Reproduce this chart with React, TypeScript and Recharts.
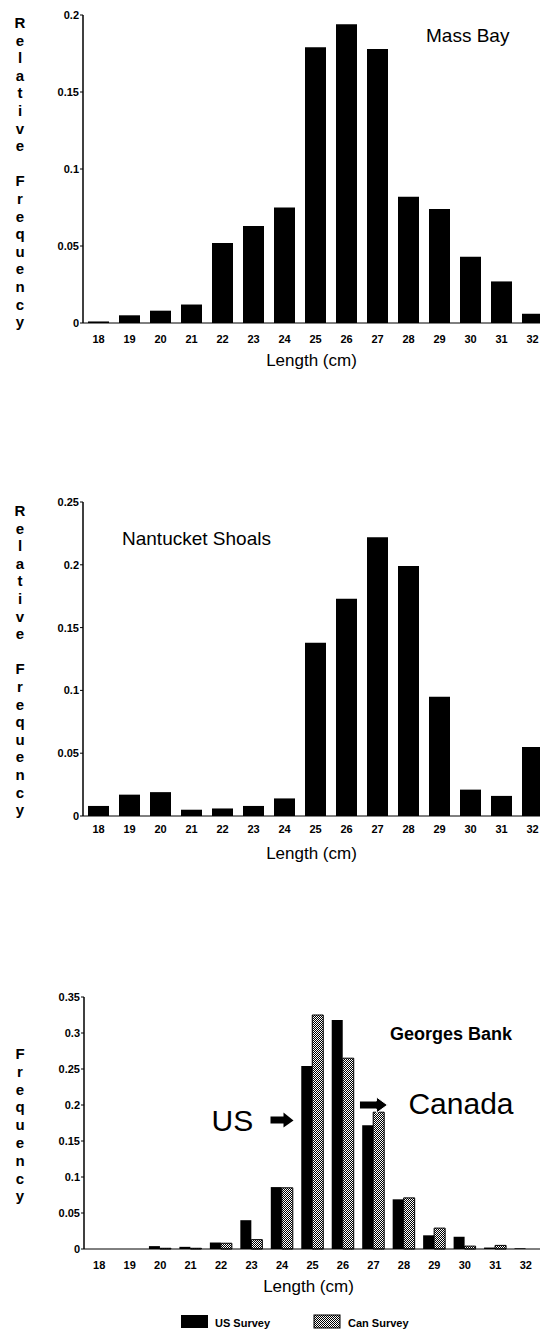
import React from "react";
import { BarChart, Bar, XAxis, YAxis, ReferenceDot } from "recharts";

const FONT = "'Liberation Sans', Arial, Helvetica, sans-serif";

// length classes (cm)
const lengths = ["18", "19", "20", "21", "22", "23", "24", "25", "26", "27", "28", "29", "30", "31", "32"];

// relative frequency
const massBay = [0.001, 0.005, 0.008, 0.012, 0.052, 0.063, 0.075, 0.179, 0.194, 0.178, 0.082, 0.074, 0.043, 0.027, 0.006];
const nantucket = [0.008, 0.017, 0.019, 0.005, 0.006, 0.008, 0.014, 0.138, 0.173, 0.222, 0.199, 0.095, 0.021, 0.016, 0.055];
const georgesUS = [0, 0, 0.004, 0.003, 0.009, 0.04, 0.086, 0.254, 0.318, 0.172, 0.069, 0.019, 0.017, 0.002, 0.001];
const georgesCan = [0, 0, 0.001, 0.001, 0.008, 0.013, 0.085, 0.325, 0.265, 0.19, 0.071, 0.029, 0.004, 0.005, 0];

const ticksMass = [0, 0.05, 0.1, 0.15, 0.2];
const ticksNant = [0, 0.05, 0.1, 0.15, 0.2, 0.25];
const ticksGeorges = [0, 0.05, 0.1, 0.15, 0.2, 0.25, 0.3, 0.35];

const massRows = lengths.map((len, i) => ({ len, v: massBay[i] }));
const nantRows = lengths.map((len, i) => ({ len, v: nantucket[i] }));
const georgesRows = lengths.map((len, i) => ({ len, us: georgesUS[i], can: georgesCan[i] }));

const xTick = { fontSize: 11, fontWeight: 700, fill: "#000", fontFamily: FONT };
const yTick = { fontSize: 11, fontWeight: 700, fill: "#000", fontFamily: FONT };

const lengthLabel = {
  content: (p: any) => {
    const vb = p.viewBox || {};
    return (
      <text x={vb.x + vb.width / 2 - 4} y={vb.y + 43} textAnchor="middle" fontSize={17} fontFamily={FONT} fill="#000">
        Length (cm)
      </text>
    );
  },
};

function UsNote(p: any) {
  const { cx, cy } = p;
  const tip = cx - 19;
  const tail = cx - 42;
  const hb = tip - 10;
  return (
    <g>
      <polygon
        points={`${tail},${cy - 3} ${hb},${cy - 3} ${hb},${cy - 7} ${tip},${cy + 1} ${hb},${cy + 8} ${hb},${cy + 4} ${tail},${cy + 4}`}
        fill="#000"
      />
      <text x={cx - 101} y={cy + 12} fontSize={30} fontFamily={FONT} fill="#000">
        US
      </text>
    </g>
  );
}

function CanNote(p: any) {
  const { cx, cy } = p;
  const tail = cx - 14;
  const tip = cx + 14;
  const hb = tip - 11;
  return (
    <g>
      <polygon
        points={`${tail},${cy - 4} ${hb},${cy - 4} ${hb},${cy - 8} ${tip},${cy} ${hb},${cy + 8} ${hb},${cy + 4} ${tail},${cy + 4}`}
        fill="#000"
        stroke="#fff"
        strokeWidth={1}
      />
      <text x={cx + 35} y={cy + 9} fontSize={30} fontFamily={FONT} fill="#000">
        Canada
      </text>
    </g>
  );
}

function VLabel({ words, x, y0, step }: { words: string[]; x: number; y0: number; step: number }) {
  const out: any[] = [];
  let k = 0;
  words.forEach((w, wi) => {
    if (wi > 0) k++;
    for (const ch of w) {
      out.push(
        <text key={wi + "-" + k} x={x} y={y0 + k * step} textAnchor="middle" fontSize={15} fontWeight={700} fontFamily={FONT} fill="#000">
          {ch}
        </text>
      );
      k++;
    }
  });
  return <g>{out}</g>;
}

export default function App() {
  return (
    <div style={{ position: "absolute", left: 0, top: 0, width: 540, height: 1335, overflow: "hidden", background: "#fff" }}>
      {/* Mass Bay */}
      <div style={{ position: "absolute", left: 0, top: 0 }}>
        <BarChart width={560} height={380} data={massRows} margin={{ top: 15, right: 12, bottom: 7, left: 0 }}>
          <XAxis dataKey="len" interval={0} tickLine={false} axisLine={{ stroke: "#000" }} tick={xTick} tickSize={6} tickMargin={6} height={50} label={lengthLabel} />
          <YAxis width={83} domain={[0, 0.2]} ticks={ticksMass} tick={yTick} tickSize={3} tickMargin={1} axisLine={{ stroke: "#000", strokeWidth: 1.5 }} tickLine={{ stroke: "#000" }} />
          <Bar dataKey="v" fill="#000" barSize={21} isAnimationActive={false} />
        </BarChart>
      </div>

      {/* Nantucket Shoals */}
      <div style={{ position: "absolute", left: 0, top: 490 }}>
        <BarChart width={560} height={383} data={nantRows} margin={{ top: 12, right: 12, bottom: 7, left: 0 }}>
          <XAxis dataKey="len" interval={0} tickLine={false} axisLine={{ stroke: "#000" }} tick={xTick} tickSize={5} tickMargin={4} height={50} label={lengthLabel} />
          <YAxis width={83} domain={[0, 0.25]} ticks={ticksNant} tick={yTick} tickSize={3} tickMargin={1} axisLine={{ stroke: "#000", strokeWidth: 1.5 }} tickLine={{ stroke: "#000" }} />
          <Bar dataKey="v" fill="#000" barSize={21} isAnimationActive={false} />
        </BarChart>
      </div>

      {/* Georges Bank */}
      <div style={{ position: "absolute", left: 0, top: 985 }}>
        <BarChart width={560} height={321} data={georgesRows} margin={{ top: 12, right: 19, bottom: 7, left: 0 }} barGap={0}>
          <defs>
            <pattern id="canDots" patternUnits="userSpaceOnUse" width={2} height={2}>
              <rect width={2} height={2} fill="#fff" />
              <rect width={1} height={1} fill="#000" />
              <rect x={1} y={1} width={1} height={1} fill="#000" />
            </pattern>
          </defs>
          <XAxis dataKey="len" interval={0} tickLine={false} axisLine={{ stroke: "#000" }} tick={xTick} tickSize={6} tickMargin={6} height={50} label={lengthLabel} />
          <YAxis width={84} domain={[0, 0.35]} ticks={ticksGeorges} tick={yTick} tickSize={3} tickMargin={1} axisLine={{ stroke: "#000", strokeWidth: 1.5 }} tickLine={{ stroke: "#000" }} />
          <Bar dataKey="us" name="US Survey" fill="#000" barSize={11} isAnimationActive={false} />
          <Bar dataKey="can" name="Can Survey" fill="url(#canDots)" stroke="#000" strokeWidth={1} barSize={11} isAnimationActive={false} />
          <ReferenceDot x="25" y={0.18} shape={UsNote} ifOverflow="visible" />
          <ReferenceDot x="27" y={0.2} shape={CanNote} ifOverflow="visible" />
        </BarChart>
      </div>

      {/* titles, vertical axis titles, legend */}
      <svg width={540} height={1335} style={{ position: "absolute", left: 0, top: 0, pointerEvents: "none" }}>
        <defs>
          <pattern id="canDotsLegend" patternUnits="userSpaceOnUse" width={2} height={2}>
            <rect width={2} height={2} fill="#fff" />
            <rect width={1} height={1} fill="#000" />
            <rect x={1} y={1} width={1} height={1} fill="#000" />
          </pattern>
        </defs>
        <VLabel words={["Relative", "Frequency"]} x={20} y0={28} step={17.6} />
        <VLabel words={["Relative", "Frequency"]} x={20} y0={516} step={17.6} />
        <VLabel words={["Frequency"]} x={20} y0={1059} step={17.8} />

        <text x={426} y={42} fontSize={19} fontFamily={FONT} fill="#000">Mass Bay</text>
        <text x={122} y={545} fontSize={19} fontFamily={FONT} fill="#000">Nantucket Shoals</text>
        <text x={390} y={1040} fontSize={18} fontWeight={700} fontFamily={FONT} fill="#000">Georges Bank</text>

        <rect x={181} y={1315} width={27} height={13} fill="#000" />
        <text x={215} y={1327} fontSize={11} fontWeight={700} fontFamily={FONT} fill="#000">US Survey</text>
        <rect x={314} y={1315} width={26} height={13} fill="url(#canDotsLegend)" stroke="#000" strokeWidth={1} />
        <text x={348} y={1327} fontSize={11} fontWeight={700} fontFamily={FONT} fill="#000">Can Survey</text>
      </svg>
    </div>
  );
}
